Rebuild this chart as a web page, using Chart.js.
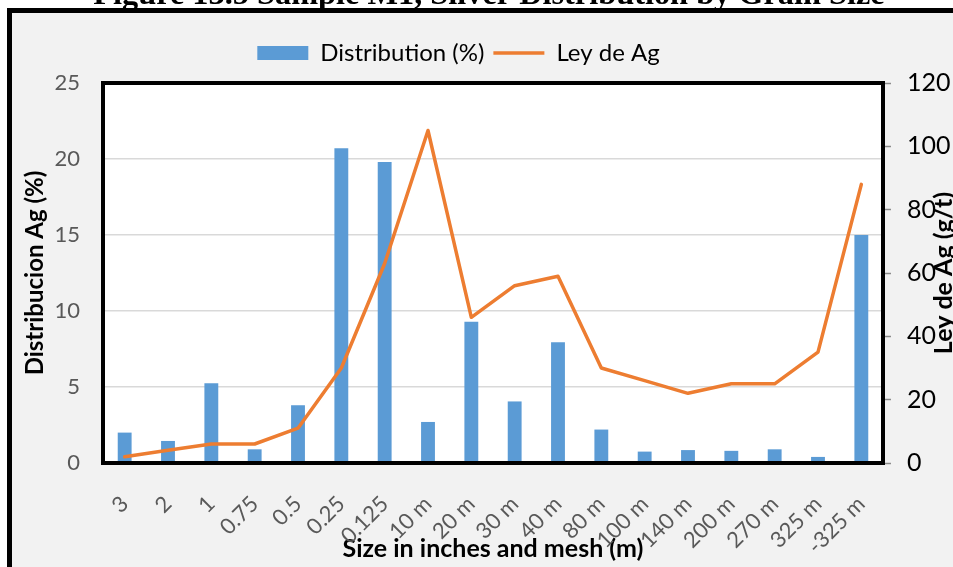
<!DOCTYPE html>
<html>
<head>
<meta charset="utf-8">
<script src="https://cdn.jsdelivr.net/npm/chart.js@4"></script>
<style>
  html, body { margin: 0; padding: 0; background: #ffffff; overflow: hidden; }
  #wrap { position: absolute; left: 0; top: 0; width: 953px; height: 567px; }
</style>
</head>
<body>
<div id="wrap"><canvas id="c" width="953" height="567"></canvas></div>
<script>
const figureTitle = 'Figure 13.5 Sample M1, Silver Distribution by Grain Size';
const categories = ['3','2','1','0.75','0.5','0.25','0.125','10 m','20 m','30 m','40 m','80 m','100 m','140 m','200 m','270 m','325 m','-325 m'];
const distribution = [2.0, 1.45, 5.25, 0.9, 3.8, 20.7, 19.8, 2.7, 9.3, 4.05, 7.95, 2.2, 0.75, 0.85, 0.8, 0.9, 0.4, 15.0];
const leyAg = [2, 4, 6, 6, 11, 30, 63, 105, 46, 56, 59, 30, 26, 22, 25, 25, 35, 88];
const leftTitle = 'Distribucion Ag (%)';
const rightTitle = 'Ley de Ag (g/t)';
const xTitle = 'Size in inches and mesh (m)';

const W = 953, H = 567;
const AREA = { left: 103, right: 883, top: 83, bottom: 463 };
const PAD_TOP = 32;
const LEGEND_SHIFT = -18;

const deco = {
  id: 'deco',
  beforeLayout(chart) {
    const lg = chart.legend;
    if (lg && !lg._patched) {
      const f = lg.fit;
      lg.fit = function () { f.call(this); this.height = AREA.top - PAD_TOP; };
      lg._patched = true;
    }
  },
  afterLayout(chart) {
    const lg = chart.legend;
    if (lg) { lg.left += LEGEND_SHIFT; lg.right += LEGEND_SHIFT; }
  },
  beforeDraw(chart) {
    const ctx = chart.ctx;
    ctx.save();
    ctx.fillStyle = '#ffffff';
    ctx.fillRect(0, 0, W, H);
    // cut-off figure caption
    ctx.fillStyle = '#000000';
    ctx.font = 'bold 100px "Liberation Serif"';
    const w100 = ctx.measureText(figureTitle).width;
    const size = 100 * 792 / w100;
    ctx.font = 'bold ' + size.toFixed(2) + 'px "Liberation Serif"';
    ctx.textAlign = 'center';
    ctx.textBaseline = 'alphabetic';
    ctx.fillText(figureTitle, 489, 4);
    // frame
    ctx.fillStyle = '#000000';
    ctx.fillRect(7, 8, W, H);
    ctx.fillStyle = '#f2f2f2';
    ctx.fillRect(12, 13, W, H);
    const a = chart.chartArea;
    ctx.fillStyle = '#ffffff';
    ctx.fillRect(a.left, a.top, a.right - a.left, a.bottom - a.top);
    ctx.restore();
  },
  afterDatasetsDraw(chart) {
    const ctx = chart.ctx, a = chart.chartArea;
    ctx.save();
    ctx.strokeStyle = '#000000';
    ctx.lineWidth = 4;
    ctx.strokeRect(a.left, a.top, a.right - a.left, a.bottom - a.top);
    ctx.restore();
  },
  afterDraw(chart) {
    const ctx = chart.ctx, a = chart.chartArea;
    ctx.save();
    ctx.fillStyle = '#000000';
    ctx.font = 'bold 25px Lato';
    ctx.textAlign = 'center';
    ctx.textBaseline = 'middle';
    ctx.translate(944, (a.top + a.bottom) / 2);
    ctx.rotate(-Math.PI / 2);
    ctx.fillText(rightTitle, 0, 0);
    ctx.restore();
  }
};

new Chart(document.getElementById('c'), {
  data: {
    labels: categories,
    datasets: [
      {
        type: 'bar',
        label: 'Distribution (%)',
        data: distribution,
        yAxisID: 'y',
        backgroundColor: '#5B9BD5',
        borderWidth: 0,
        barPercentage: 0.32,
        categoryPercentage: 1.0,
        pointStyle: 'rect',
        order: 1
      },
      {
        type: 'line',
        label: 'Ley de Ag',
        data: leyAg,
        yAxisID: 'y1',
        borderColor: '#ED7D31',
        backgroundColor: '#ED7D31',
        borderWidth: 3.5,
        pointRadius: 0,
        pointHoverRadius: 0,
        pointStyle: 'line',
        tension: 0,
        borderJoinStyle: 'round',
        borderCapStyle: 'round',
        order: 0
      }
    ]
  },
  options: {
    responsive: false,
    animation: false,
    devicePixelRatio: 1,
    layout: { padding: { left: 0, right: 0, top: PAD_TOP, bottom: 0 } },
    plugins: {
      tooltip: { enabled: false },
      legend: {
        position: 'top',
        labels: {
          usePointStyle: true,
          pointStyleWidth: 51,
          boxHeight: 14,
          padding: 9,
          color: '#000000',
          font: { family: 'Lato', size: 24 },
          sort: (a, b) => a.datasetIndex - b.datasetIndex
        }
      }
    },
    scales: {
      x: {
        grid: { display: false, drawTicks: false },
        border: { display: false },
        ticks: {
          autoSkip: false,
          minRotation: 45,
          maxRotation: 45,
          padding: 28,
          labelOffset: 0,
          color: '#595959',
          font: { family: 'Lato', size: 22 }
        },
        title: {
          display: true,
          text: xTitle,
          color: '#000000',
          font: { family: 'Lato', size: 25, weight: 'bold' },
          padding: { top: 0, bottom: 3 }
        },
        afterFit(s) { s.height = H - AREA.bottom; }
      },
      y: {
        position: 'left',
        min: 0,
        max: 25,
        ticks: { stepSize: 5, padding: 23, color: '#595959', font: { family: 'Lato', size: 22 } },
        grid: { color: '#d9d9d9', lineWidth: 1.5, drawTicks: false },
        border: { display: false },
        title: {
          display: true,
          text: leftTitle,
          color: '#000000',
          font: { family: 'Lato', size: 24, weight: 'bold' },
          padding: { top: 21, bottom: 0 }
        },
        afterFit(s) { s.width = AREA.left; }
      },
      y1: {
        position: 'right',
        min: 0,
        max: 120,
        ticks: { stepSize: 20, padding: 16, color: '#000000', font: { family: 'Lato', size: 25 } },
        grid: { drawOnChartArea: false, drawTicks: true, tickLength: 8, tickColor: '#8c8c8c', tickWidth: 1.5 },
        border: { display: false },
        afterFit(s) { s.width = W - AREA.right; }
      }
    }
  },
  plugins: [deco]
});
</script>
</body>
</html>
